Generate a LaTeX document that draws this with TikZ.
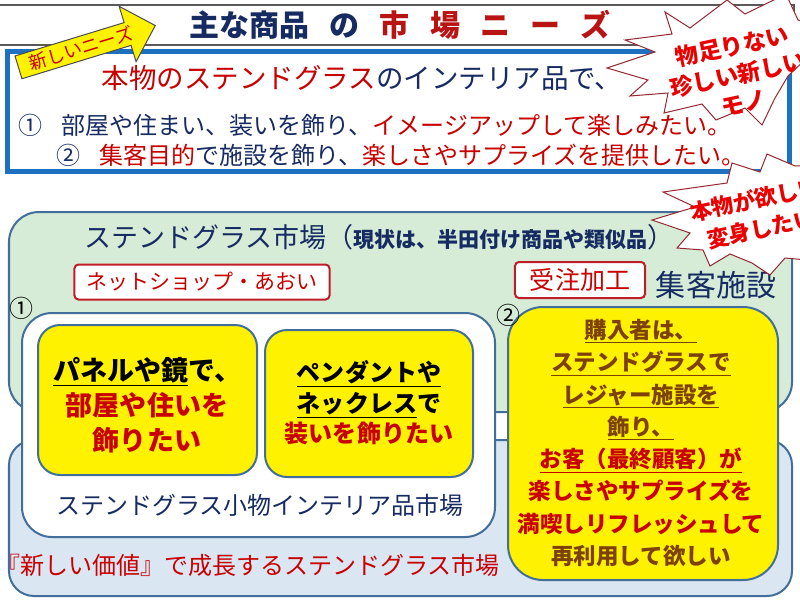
\documentclass[tikz,border=0pt]{standalone}
\usepackage{fontspec}
\setmainfont{Noto Sans CJK JP}
\usetikzlibrary{shapes.arrows}
\definecolor{txtnavy}{RGB}{23,43,99}
\definecolor{txtred}{RGB}{200,0,0}
\definecolor{titlered}{RGB}{185,20,20}
\definecolor{needblue}{RGB}{30,112,192}
\definecolor{boxline}{RGB}{65,110,155}
\definecolor{mktgreen}{RGB}{214,236,214}
\definecolor{mktblue}{RGB}{219,230,243}
\definecolor{shopred}{RGB}{190,30,40}
\definecolor{burstline}{RGB}{150,40,50}
\definecolor{starred}{RGB}{235,0,0}
\definecolor{buyerbrown}{RGB}{125,65,5}
\newdimen\pxu \pxu=0.7113pt
\newcommand\fsz[2]{\fontsize{#1\pxu}{#2\pxu}\selectfont}

\begin{document}
\begin{tikzpicture}[x=0.025cm, y=-0.025cm,
  frame/.style={draw=boxline, line width=2\pxu, rounded corners=#1},
  frame/.default=30\pxu,
  shopbox/.style={draw=shopred, line width=2\pxu, fill=white, rounded corners=4\pxu, text=txtred, inner sep=0pt},
  burst/.style={draw=burstline, line width=1\pxu, fill=white},
  bursttext/.style={text=starred, font=\fsz{23}{29}\bfseries, align=center, rotate=12},
  needarrow/.style={single arrow, draw=black!70, line width=1\pxu, fill=yellow, text=txtred, font=\fsz{18}{18}, rotate=17, minimum height=143\pxu, single arrow head extend=17\pxu, inner ysep=3\pxu, inner xsep=2\pxu}]
  \useasboundingbox (0,0) rectangle (800,600);
  \clip (0,0) rectangle (800,600);
  \fill[white] (0,0) rectangle (800,600);
  \draw[draw=black!65, line width=1.5\pxu, fill=white] (-2,5) rectangle (794,45);
  \node[font=\fsz{30}{30}\bfseries] (title) at (400,25) {\textcolor{txtnavy}{主な商品\hspace{0.67em}の}\hspace{0.67em}\textcolor{titlered}{市\hspace{0.67em}場\hspace{0.67em}ニ\hspace{0.67em}ー\hspace{0.67em}ズ}};
  \draw[draw=needblue, line width=4.5\pxu] (7.5,51.5) rectangle (789.5,171.5);
  \node[font=\fsz{27.5}{27.5}] (need) at (362,78) {\textcolor{txtred}{本物のステンドグラス}\textcolor{txtnavy}{のインテリア品で、}};
  \node[font=\fsz{24}{24}, anchor=west, inner sep=0pt] (needa) at (18,125) {\textcolor{txtnavy}{①\hspace{0.8em}部屋や住まい、装いを飾り、}\textcolor{txtred}{イメージアップして楽しみたい。}};
  \node[font=\fsz{24}{24}, anchor=west, inner sep=0pt] (needb) at (56,155) {\textcolor{txtnavy}{②\hspace{0.8em}}\textcolor{txtred}{集客目的}\textcolor{txtnavy}{で施設を飾り、}\textcolor{txtred}{楽しさやサプライズを提供したい。}};
  \node[needarrow, anchor=tail] (newneed) at (18,67.5) {新しいニーズ};

  \draw[frame, fill=mktgreen] (9,212) rectangle (792,412);
  \draw[frame=25\pxu, fill=mktblue] (9,440) rectangle (792,596);
  \node[anchor=west, inner sep=0pt, text=txtnavy] (market) at (84,237) {\fsz{27}{27}ステンドグラス市場（\fsz{21}{21}\textbf{現状は、半田付け商品や類似品}\fsz{27}{27}）};
  \node[shopbox, font=\fsz{21}{21}, minimum width=255\pxu, minimum height=35\pxu] (shop) at (202,282) {ネットショップ・あおい};
  \node[shopbox, font=\fsz{25}{25}, minimum width=130\pxu, minimum height=36\pxu] (order) at (580,280) {受注加工};
  \node[font=\fsz{30}{30}, text=txtnavy, inner sep=0pt] (facility) at (716,285) {集客施設};

  \draw[frame, fill=white] (22,313) rectangle (495,537);
  \draw[frame=22\pxu, fill=yellow] (38,325) rectangle (257,475);
  \draw[frame=22\pxu, fill=yellow] (265,330) rectangle (473,477);
  \draw[frame=35\pxu, fill=yellow] (508,307) rectangle (778,580);
  \node[font=\fsz{24}{24}, inner sep=0pt] (one) at (22,308) {①};
  \node[font=\fsz{24}{24}, inner sep=0pt] (two) at (508,315) {②};
  \node[font=\fsz{27}{35}\bfseries, align=center] (panel) at (147,405) {\underline{パネルや鏡}で、\\\textcolor{txtred}{部屋や住いを}\\\textcolor{txtred}{飾りたい}};
  \node[font=\fsz{24}{30.5}\bfseries, align=center] (pendant) at (369,403) {\underline{ペンダントや}\\\underline{ネックレス}で\\\textcolor{txtred}{装いを飾りたい}};
  \node[font=\fsz{24}{24}, text=txtnavy] (small) at (260,505) {ステンドグラス小物インテリア品市場};
  \node[font=\fsz{24}{24}, text=txtred, anchor=west, inner sep=0pt] (value) at (-4,565) {『新しい価値』で成長するステンドグラス市場};
  \node[font=\fsz{22.5}{32.3}\bfseries, align=center, text=txtred] (buyer) at (641,443) {\textcolor{buyerbrown}{\underline{購入者は、}}\\\textcolor{buyerbrown}{\underline{ステンドグラスで}}\\\textcolor{buyerbrown}{\underline{レジャー施設を}}\\\textcolor{buyerbrown}{\underline{飾り、}}\\\underline{お客（最終顧客）が}\\楽しさやサプライズを\\満喫しリフレッシュして\\\textcolor{buyerbrown}{再利用して欲しい}};

  \draw[burst] (665,12) -- (690,28) -- (727,0) -- (745,14) -- (786,-6) -- (798,20) -- (830,30) -- (810,55) -- (788,76) -- (775,98) -- (762,125) -- (745,108) -- (716,120) -- (702,104) -- (664,113) -- (668,93) -- (630,96) -- (648,80) -- (607,68) -- (655,52) -- (625,40) -- (672,34) -- cycle;
  \node[bursttext] (rare) at (738,74) {物足りない\\珍しい新しい\\モノ};
  \draw[burst] (663,192) -- (727,183) -- (732,163) -- (760,172) -- (767,154) -- (795,166) -- (830,165) -- (830,262) -- (785,258) -- (770,275) -- (752,263) -- (730,254) -- (710,266) -- (703,250) -- (677,248) -- (690,233) -- (652,220) -- (695,207) -- cycle;
  \node[bursttext, font=\fsz{22}{30}\bfseries] (real) at (758,214) {本物が欲しい\\変身したい};
\end{tikzpicture}
\end{document}
